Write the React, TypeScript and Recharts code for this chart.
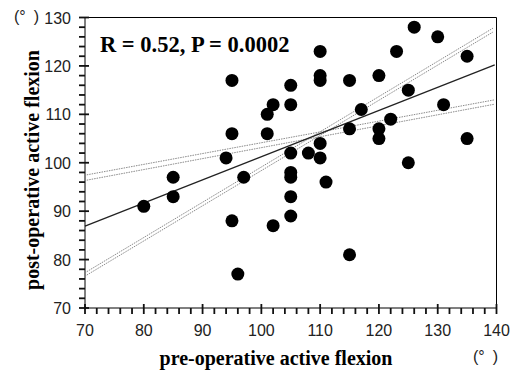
import React from "react";
import {
  ReferenceLine,
  Scatter,
  ScatterChart,
  XAxis,
  YAxis,
} from "recharts";

const preFlexion = [
  80, 85, 85, 94, 95, 95, 95, 96, 97, 101, 101, 102, 102, 105, 105, 105, 105,
  105, 105, 105, 108, 110, 110, 110, 110, 110, 111, 115, 115, 115, 117, 120,
  120, 120, 122, 123, 125, 125, 126, 130, 131, 135, 135,
];
const postFlexion = [
  91, 97, 93, 101, 117, 106, 88, 77, 97, 110, 106, 112, 87, 116, 112, 102, 98,
  97, 93, 89, 102, 123, 118, 117, 104, 101, 96, 117, 107, 81, 111, 118, 107,
  105, 109, 123, 115, 100, 128, 126, 112, 122, 105,
];

const xMinor = Array.from({ length: 36 }, (_, i) => 70 + i * 2);
const yMinor = Array.from({ length: 31 }, (_, i) => 70 + i * 2);

// regression line and the two confidence limits (each drawn as a pair)
const fitLine = [
  { x: 70, y: 86.9 },
  { x: 139.7, y: 120.2 },
];
const steepLimits = [
  [
    { x: 70.3, y: 77.5 },
    { x: 139.4, y: 127.8 },
  ],
  [
    { x: 70.3, y: 76.8 },
    { x: 139.4, y: 127.0 },
  ],
];
const flatLimits = [
  [
    { x: 70.3, y: 97.5 },
    { x: 139.7, y: 113.0 },
  ],
  [
    { x: 70.3, y: 96.4 },
    { x: 139.7, y: 112.1 },
  ],
];

const data = preFlexion.map((x, i) => ({ x, y: postFlexion[i] }));

const tickFont = "'Liberation Sans Narrow', 'Liberation Sans', sans-serif";
const serif = "'Liberation Serif', 'DejaVu Serif', serif";
const tickStyle = { stroke: "#111", strokeWidth: 1.8 };
// tick props arrive at tickSize + tickMargin = 8px out from the axis line

const BottomTick = (props: any) => {
  const { x, y, payload } = props;
  if (payload.value % 10 !== 0) return <g />;
  return (
    <g>
      <line x1={x} x2={x} y1={y - 12} y2={y - 8} stroke="#111" strokeWidth={1.8} />
      <text x={x} y={y + 20} textAnchor="middle" fontSize={16} fontFamily={tickFont} fill="#222">
        {payload.value}
      </text>
    </g>
  );
};

const TopTick = (props: any) => {
  const { x, y, payload } = props;
  if (payload.value % 10 !== 0) return <g />;
  return <line x1={x} x2={x} y1={y + 8} y2={y + 12} stroke="#111" strokeWidth={1.8} />;
};

const LeftTick = (props: any) => {
  const { x, y, payload } = props;
  if (payload.value % 10 !== 0) return <g />;
  return (
    <g>
      <line x1={x + 8} x2={x + 12} y1={y} y2={y} stroke="#111" strokeWidth={1.8} />
      <text x={x - 6} y={y + 6} textAnchor="end" fontSize={16} fontFamily={tickFont} fill="#222">
        {payload.value}
      </text>
    </g>
  );
};

const RightTick = (props: any) => {
  const { x, y, payload } = props;
  if (payload.value % 10 !== 0) return <g />;
  return <line x1={x - 12} x2={x - 8} y1={y} y2={y} stroke="#111" strokeWidth={1.8} />;
};

const Dot = (props: any) => <circle cx={props.cx} cy={props.cy} r={6.5} fill="#000" />;

export default function App() {
  return (
    <div style={{ position: "relative", width: 510, height: 373 }}>
      <style>{"body{margin:0}"}</style>
      <ScatterChart
        width={510}
        height={373}
        margin={{ top: 7.5, right: 3.5, bottom: 0, left: 0 }}
      >
        <XAxis
          xAxisId="b"
          dataKey="x"
          type="number"
          domain={[70, 140]}
          ticks={xMinor}
          interval={0}
          height={65}
          tickSize={6}
          tickMargin={2}
          tickLine={tickStyle}
          tick={<BottomTick />}
          stroke="#000"
        />
        <XAxis
          xAxisId="t"
          orientation="top"
          type="number"
          domain={[70, 140]}
          ticks={xMinor}
          interval={0}
          height={10}
          tickSize={6}
          tickMargin={2}
          tickLine={tickStyle}
          tick={<TopTick />}
          stroke="#000"
        />
        <YAxis
          yAxisId="l"
          dataKey="y"
          type="number"
          domain={[70, 130]}
          ticks={yMinor}
          interval={0}
          width={85}
          tickSize={6}
          tickMargin={2}
          tickLine={tickStyle}
          tick={<LeftTick />}
          stroke="#000"
        />
        <YAxis
          yAxisId="r"
          orientation="right"
          type="number"
          domain={[70, 130]}
          ticks={yMinor}
          interval={0}
          width={10}
          tickSize={6}
          tickMargin={2}
          tickLine={tickStyle}
          tick={<RightTick />}
          stroke="#000"
        />
        {[...steepLimits, ...flatLimits].map((seg, i) => (
          <ReferenceLine
            key={i}
            xAxisId="b"
            yAxisId="l"
            segment={seg}
            stroke="#8a8a8a"
            strokeWidth={1}
            strokeDasharray="1.5 1"
          />
        ))}
        <ReferenceLine
          xAxisId="b"
          yAxisId="l"
          segment={fitLine}
          stroke="#222"
          strokeWidth={1.3}
        />
        <Scatter
          xAxisId="b"
          yAxisId="l"
          data={data}
          shape={<Dot />}
          isAnimationActive={false}
        />
      </ScatterChart>
      <div
        style={{
          position: "absolute",
          left: 100,
          top: 32,
          fontFamily: serif,
          fontWeight: "bold",
          fontSize: 22.5,
          whiteSpace: "nowrap",
        }}
      >
        R = 0.52, P = 0.0002
      </div>
      <div
        style={{
          position: "absolute",
          left: 0,
          width: 552,
          top: 347,
          textAlign: "center",
          fontFamily: serif,
          fontWeight: "bold",
          fontSize: 20,
          whiteSpace: "nowrap",
        }}
      >
        pre-operative active flexion
      </div>
      <div
        style={{
          position: "absolute",
          left: 32,
          top: 170,
          transform: "translate(-50%, -50%) rotate(-90deg)",
          fontFamily: serif,
          fontWeight: "bold",
          fontSize: 20,
          whiteSpace: "nowrap",
        }}
      >
        post-operative active flexion
      </div>
      <div
        style={{
          position: "absolute",
          left: 14,
          top: 8,
          fontFamily: tickFont,
          fontSize: 16,
          color: "#222",
          whiteSpace: "pre",
        }}
      >
        {"(°\u2002)"}
      </div>
      <div
        style={{
          position: "absolute",
          left: 473,
          top: 348,
          fontFamily: tickFont,
          fontSize: 16,
          color: "#222",
          whiteSpace: "pre",
        }}
      >
        {"(°\u2002)"}
      </div>
    </div>
  );
}
